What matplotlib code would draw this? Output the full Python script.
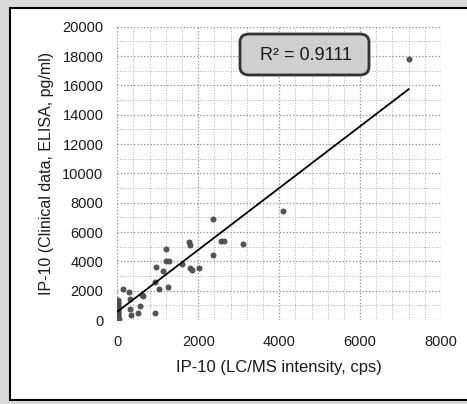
import numpy as np
import matplotlib.pyplot as plt
from matplotlib.patches import Rectangle, FancyBboxPatch
from matplotlib.ticker import MultipleLocator

# IP-10: LC/MS intensity (cps) vs clinical ELISA (pg/ml)
lcms = [10, 15, 5, 20, 10, 15, 5, 20, 10, 15, 5, 20, 10, 30,
        130, 300, 320, 600, 640, 560, 320, 350, 510, 920,
        920, 1020, 1250, 960, 1140, 1200, 1200, 1280, 1600, 1760,
        1790, 1800, 1850, 2010, 2370, 2370, 2560, 2630, 3110, 4090, 7200]
elisa = [1350, 1250, 1150, 1050, 950, 850, 750, 650, 550, 450, 350, 250, 150, 80,
         2090, 1930, 1410, 1700, 1630, 950, 730, 330, 460, 500,
         2610, 2090, 2230, 3590, 3340, 4840, 4020, 4020, 3800, 5300,
         5110, 3520, 3410, 3570, 6860, 4410, 5400, 5360, 5180, 7430, 17780]

# linear trendline as shown in the chart
slope = 2.107
intercept = 566
r2_text = "R² = 0.9111"

x_ticks = [0, 2000, 4000, 6000, 8000]
y_ticks = list(range(0, 20001, 2000))

plt.rcParams['font.family'] = ['Liberation Sans', 'DejaVu Sans']

fig = plt.figure(figsize=(4.67, 4.04), dpi=100)
fig.patch.set_facecolor('#d9d9d9')

# white panel with black frame (background axes)
bg = fig.add_axes([0, 0, 1, 1], zorder=0)
bg.set_xlim(0, 467)
bg.set_ylim(404, 0)
bg.axis('off')
bg.add_patch(Rectangle((10, 8), 470, 392, facecolor='white',
                       edgecolor='black', linewidth=1.5))

ax = fig.add_axes([117.3 / 467, 1 - 320 / 404, (441 - 117.3) / 467, (320 - 26.7) / 404],
                  zorder=2)
ax.set_facecolor('none')

ax.set_xlim(0, 8000)
ax.set_ylim(0, 20000)
ax.set_xticks(x_ticks)
ax.set_yticks(y_ticks)
ax.xaxis.set_minor_locator(MultipleLocator(400))
ax.yaxis.set_minor_locator(MultipleLocator(1000))
ax.grid(which='major', color='#888888', linestyle=':', linewidth=0.9)
ax.grid(which='minor', color='#b0b0b0', linestyle=':', linewidth=0.7)
ax.tick_params(which='both', length=0, labelsize=10.5, colors='#1a1a1a')
ax.tick_params(axis='y', pad=10)
ax.tick_params(axis='x', pad=11)
for s in ax.spines.values():
    s.set_visible(False)

ax.scatter(lcms, elisa, s=14, color='#555555', edgecolors='#444444',
           linewidths=0.5, zorder=3)

xs = np.array([0, max(lcms)])
ax.plot(xs, slope * xs + intercept, color='black', linewidth=1.3, zorder=4)

ax.set_xlabel("IP-10 (LC/MS intensity, cps)", fontsize=12, color='#1a1a1a', labelpad=8)
ax.set_ylabel("IP-10 (Clinical data, ELISA, pg/ml)", fontsize=11.5, color='#1a1a1a', labelpad=6)

ax.add_patch(FancyBboxPatch((240 / 467, 1 - 75 / 404), 129 / 467, 41 / 404,
                            boxstyle="round,pad=0,rounding_size=0.02",
                            transform=fig.transFigure, facecolor='#cfcfcf',
                            edgecolor='#333333', linewidth=2, zorder=5,
                            clip_on=False))
ax.text(305.5 / 467, 1 - 55 / 404, r2_text, transform=fig.transFigure,
        ha='center', va='center', fontsize=13, color='#1a1a1a', zorder=6)

fig.savefig('out.png', dpi=100, facecolor=fig.get_facecolor())
